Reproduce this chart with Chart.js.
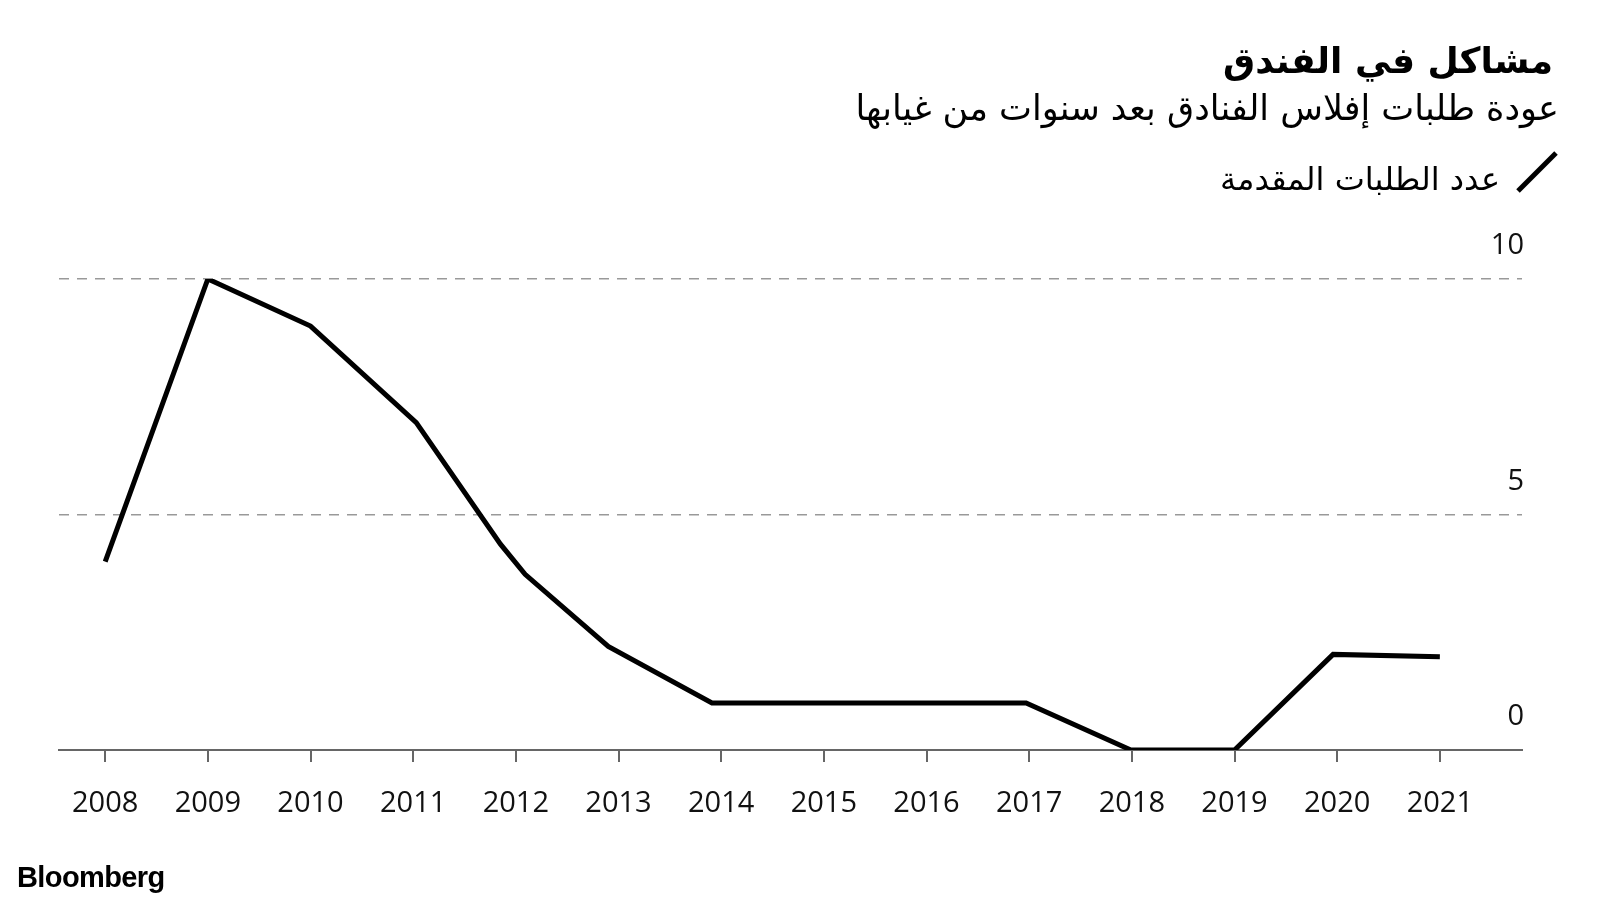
<!DOCTYPE html>
<html lang="ar">
<head>
<meta charset="utf-8">
<script src="https://cdn.jsdelivr.net/npm/chart.js@4"></script>
<style>
    body { margin: 0; background: #fff; }
    #wrap { position: relative; width: 1600px; height: 900px; overflow: hidden; }
    #chart { position: absolute; left: 0; top: 0; }
    .ar { position: absolute; direction: rtl; white-space: nowrap; color: #000; font-family: "DejaVu Sans", sans-serif; }
    #title { right: 47px; top: 40px; font-size: 36px; font-weight: bold; }
    #subtitle { right: 41px; top: 88px; font-size: 35px; }
    #legendText { right: 100px; top: 160px; font-size: 32px; }
    #legendIcon { position: absolute; left: 1514px; top: 149px; }
    #logo { position: absolute; left: 17px; top: 861px; font-family: "Liberation Sans", Arial, sans-serif; font-weight: bold; font-size: 29px; letter-spacing: -0.6px; color: #000; }
</style>
</head>
<body>
<div id="wrap">
    <canvas id="chart" width="1600" height="900"></canvas>
    <div id="title" class="ar">مشاكل في الفندق</div>
    <div id="subtitle" class="ar">عودة طلبات إفلاس الفنادق بعد سنوات من غيابها</div>
    <div id="legendText" class="ar">عدد الطلبات المقدمة</div>
    <svg id="legendIcon" width="46" height="46"><line x1="4" y1="42" x2="42" y2="4" stroke="#000" stroke-width="5"/></svg>
    <div id="logo">Bloomberg</div>
</div>
<script>
// Year ticks on the x axis
const years = [2008, 2009, 2010, 2011, 2012, 2013, 2014, 2015, 2016, 2017, 2018, 2019, 2020, 2021];
// Value ticks on the y axis
const valueTicks = [0, 5, 10];

// Line vertices (x in years, y = number of filings)
const pointYears = [2008, 2009, 2010, 2011.03, 2011.85, 2012.09, 2012.9, 2013.91, 2016.97, 2017.99, 2019, 2019.96, 2021];
const pointValues = [4, 10, 9, 6.95, 4.37, 3.73, 2.2, 1.0, 1.0, 0, 0, 2.03, 1.98];

const tickFont = { family: "'Open Sans', sans-serif", size: 29 };

const ctx = document.getElementById("chart").getContext("2d");
new Chart(ctx, {
    type: "line",
    data: {
        datasets: [{
            label: "عدد الطلبات المقدمة",
            data: pointYears.map((x, i) => ({ x: x, y: pointValues[i] })),
            borderColor: "#000",
            borderWidth: 5,
            borderJoinStyle: "miter",
            pointRadius: 0,
            tension: 0,
            fill: false
        }]
    },
    options: {
        responsive: false,
        animation: false,
        layout: { padding: { left: 59, right: 78, top: 279, bottom: 40 } },
        plugins: {
            legend: { display: false },
            tooltip: { enabled: false }
        },
        scales: {
            x: {
                type: "linear",
                min: 2007.55,
                max: 2021.8,
                afterBuildTicks: s => { s.ticks = years.map(v => ({ value: v })); },
                afterFit: s => { s.height = 110; },
                grid: {
                    drawOnChartArea: false,
                    drawTicks: true,
                    tickLength: 12,
                    color: "#666",
                    lineWidth: 2
                },
                border: { display: true, color: "#666", width: 2 },
                ticks: {
                    color: "#111",
                    font: tickFont,
                    padding: 24,
                    maxRotation: 0,
                    autoSkip: false,
                    callback: v => String(v)
                }
            },
            y: {
                position: "right",
                min: 0,
                max: 10,
                afterBuildTicks: s => { s.ticks = valueTicks.map(v => ({ value: v })); },
                afterFit: s => { s.width = 0; },
                border: { display: false, dash: [10, 8] },
                grid: {
                    drawTicks: false,
                    color: c => c.tick.value === 0 ? "rgba(0,0,0,0)" : "#999",
                    lineWidth: 1.5
                },
                ticks: {
                    mirror: true,
                    padding: 2,
                    labelOffset: -33,
                    color: "#111",
                    font: tickFont
                }
            }
        }
    }
});
</script>
</body>
</html>
